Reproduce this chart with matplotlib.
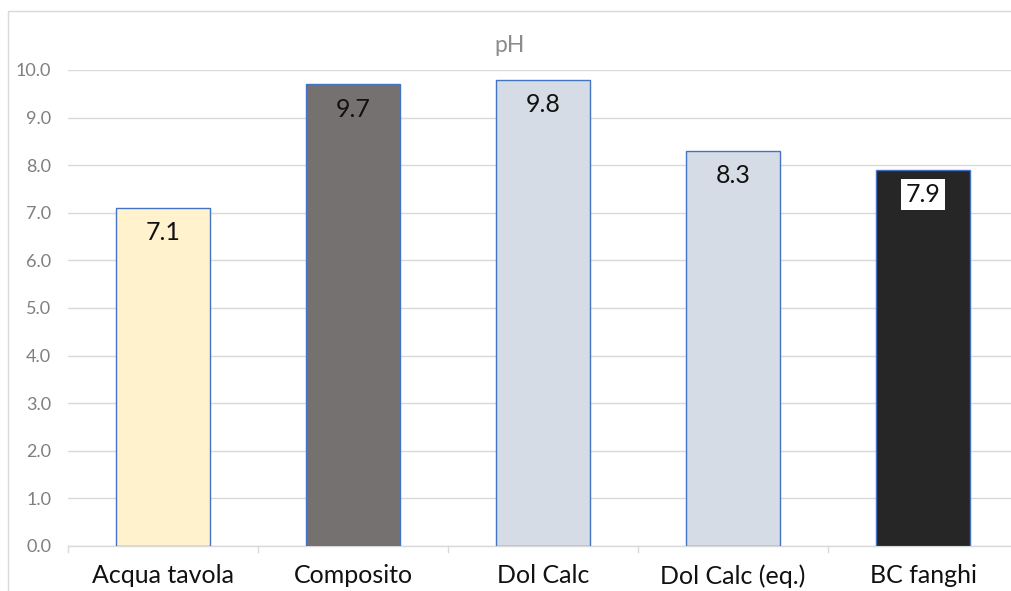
import matplotlib.pyplot as plt
from matplotlib.patches import Rectangle

categories = ["Acqua tavola", "Composito", "Dol Calc", "Dol Calc (eq.)", "BC fanghi"]
ph_values = [7.1, 9.7, 9.8, 8.3, 7.9]
bar_colors = ["#FFF2CC", "#767171", "#D6DCE5", "#D6DCE5", "#262626"]
yticks = [0, 1, 2, 3, 4, 5, 6, 7, 8, 9, 10]

plt.rcParams['font.family'] = ['Lato', 'DejaVu Sans']

W, H = 1011, 591
fig = plt.figure(figsize=(W / 100, H / 100), dpi=100)

# light chart-area frame, cut off on the right and bottom
fig.patches.append(Rectangle((8 / W, -0.1), 1.2, 1 - 11 / H + 0.1,
                             transform=fig.transFigure, fill=False,
                             edgecolor="#D9D9D9", linewidth=1))

x0, x1 = 68, 1018
y0, y1 = 546, 70
ax = fig.add_axes([x0 / W, 1 - y0 / H, (x1 - x0) / W, (y0 - y1) / H])

pos = list(range(len(categories)))
ax.bar(pos, ph_values, width=0.495, color=bar_colors,
       edgecolor="#4472C4", linewidth=1, zorder=3)

for i, v in enumerate(ph_values):
    kw = {}
    if i == len(ph_values) - 1:
        kw['bbox'] = dict(facecolor='white', edgecolor='none', pad=3)
    ax.text(i, v - 0.52, f"{v:.1f}", ha='center', va='center',
            fontsize=18, color='#111111', zorder=4, **kw)

ax.set_xlim(-0.5, len(categories) - 0.5)
ax.set_ylim(0, 10)
ax.set_yticks(yticks)
ax.set_yticklabels([f"{t:.1f}" for t in yticks], fontsize=13, color="#7F7F7F")
ax.tick_params(axis='y', length=0, pad=12)

ax.set_xticks(pos)
ax.set_xticklabels(categories, fontsize=18, color="#111111")
ax.tick_params(axis='x', length=0, pad=13)
# category separators below the axis line
for b in [i - 0.5 for i in range(len(categories) + 1)]:
    ax.plot([b, b], [0, -0.12], color="#D9D9D9", linewidth=1, clip_on=False)

ax.grid(axis='y', color="#D9D9D9", linewidth=1, zorder=0)
ax.set_axisbelow(True)
for s in ['top', 'right', 'left']:
    ax.spines[s].set_visible(False)
ax.spines['bottom'].set_color("#D9D9D9")
ax.spines['bottom'].set_linewidth(1)
ax.spines['bottom'].set_zorder(2)

fig.text(510 / W, 1 - 46 / H, "pH", ha='center', va='center',
         fontsize=16.5, color="#8C8C8C")

fig.savefig("out.png", dpi=100)
